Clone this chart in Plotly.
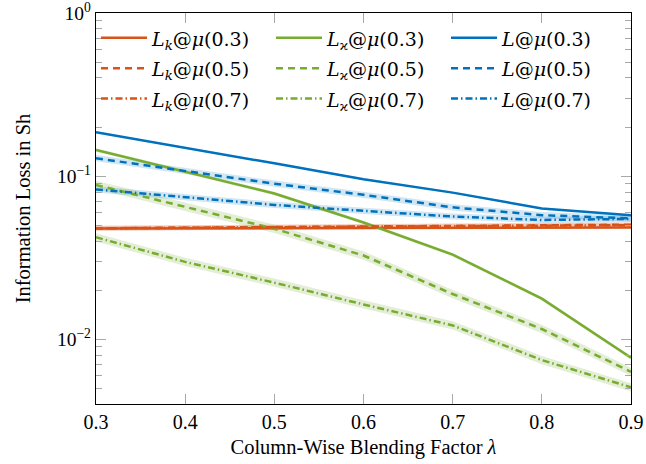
import plotly.graph_objects as go

# Column-wise blending factor
lam = [0.3, 0.4, 0.5, 0.6, 0.7, 0.8, 0.9]

# Information loss (Sh) per loss term and mu setting
Lk_03 = [0.0479, 0.0480, 0.0482, 0.0483, 0.0484, 0.0485, 0.0486]
Lk_05 = [0.0480, 0.0484, 0.0488, 0.0493, 0.0497, 0.0501, 0.0505]
Lk_07 = [0.0480, 0.0483, 0.0487, 0.0491, 0.0495, 0.0499, 0.0502]

Lx_03 = [0.145, 0.107, 0.0785, 0.0521, 0.0331, 0.0178, 0.00774]
Lx_05 = [0.0885, 0.065, 0.0477, 0.0327, 0.0190, 0.0116, 0.00634]
Lx_07 = [0.0423, 0.0299, 0.0223, 0.0164, 0.0122, 0.00748, 0.0051]

L_03 = [0.186, 0.150, 0.120, 0.096, 0.0794, 0.0635, 0.0578]
L_05 = [0.129, 0.108, 0.0900, 0.077, 0.0645, 0.0578, 0.0552]
L_07 = [0.083, 0.0748, 0.0668, 0.0614, 0.0567, 0.0540, 0.0548]

# multiplicative half-width of the shaded spread band around each curve
spread = {
    "Lk_03": 1.012, "Lk_05": 1.035, "Lk_07": 1.035,
    "Lx_03": 1.025, "Lx_05": 1.06, "Lx_07": 1.06,
    "L_03": 1.012, "L_05": 1.045, "L_07": 1.045,
}

x_ticks = [0.3, 0.4, 0.5, 0.6, 0.7, 0.8, 0.9]
x_tick_text = ["0.3", "0.4", "0.5", "0.6", "0.7", "0.8", "0.9"]
y_ticks = [1, 0.1, 0.01]
y_tick_text = ["10<sup>0</sup>", "10<sup>\u22121</sup>", "10<sup>\u22122</sup>"]

RED, GREEN, BLUE = "#D95319", "#77AC30", "#0072BD"
BAND = {RED: "rgba(217,83,25,0.18)", GREEN: "rgba(119,172,48,0.20)",
        BLUE: "rgba(0,114,189,0.18)"}
DASH = {"0.3": "solid", "0.5": "7px,5px", "0.7": "7px,3px,1.5px,3px"}


def label(sym, mu):
    return ('<span style="font-size:19px">' + sym +
            "@<i>\u03bc</i>(" + mu + ")</span>")


LK = "<i>L</i><sub><i>k</i></sub>"
LX = "<i>L</i><sub>\u03f0</sub>"
LL = "<i>L</i>"

series = [
    ("Lk_03", Lk_03, RED, "0.3", label(LK, "0.3")),
    ("Lx_03", Lx_03, GREEN, "0.3", label(LX, "0.3")),
    ("L_03", L_03, BLUE, "0.3", label(LL, "0.3")),
    ("Lk_05", Lk_05, RED, "0.5", label(LK, "0.5")),
    ("Lx_05", Lx_05, GREEN, "0.5", label(LX, "0.5")),
    ("L_05", L_05, BLUE, "0.5", label(LL, "0.5")),
    ("Lk_07", Lk_07, RED, "0.7", label(LK, "0.7")),
    ("Lx_07", Lx_07, GREEN, "0.7", label(LX, "0.7")),
    ("L_07", L_07, BLUE, "0.7", label(LL, "0.7")),
]

fig = go.Figure()

# spread bands underneath all curves
for key, vals, col, mu, name in series:
    f = spread[key]
    upper = [v * f for v in vals]
    lower = [v / f for v in vals]
    fig.add_trace(go.Scatter(x=lam, y=upper, mode="lines", line=dict(width=0),
                             showlegend=False, hoverinfo="skip"))
    fig.add_trace(go.Scatter(x=lam, y=lower, mode="lines", line=dict(width=0),
                             fill="tonexty", fillcolor=BAND[col],
                             showlegend=False, hoverinfo="skip"))

for key, vals, col, mu, name in series:
    fig.add_trace(go.Scatter(x=lam, y=vals, mode="lines", name=name,
                             line=dict(color=col, width=2.5, dash=DASH[mu])))

FONT = "Times New Roman, Liberation Serif, serif"
MATH = "DejaVu Serif, serif"
TICKC = "#a8a8a8"

fig.update_layout(
    width=646, height=464,
    margin=dict(l=96, r=15, t=13, b=60, autoexpand=False),
    paper_bgcolor="white", plot_bgcolor="white",
    font=dict(family=FONT, size=17, color="black"),
    showlegend=True,
    legend=dict(orientation="h", traceorder="normal",
                x=0.0, xanchor="left", y=0.988, yanchor="top",
                entrywidth=114, entrywidthmode="pixels",
                bgcolor="rgba(0,0,0,0)", borderwidth=0,
                font=dict(family=MATH, size=21), itemwidth=46),
)

fig.update_xaxes(
    range=[0.3, 0.9], tickvals=x_ticks, ticktext=x_tick_text,
    automargin=False,
    showgrid=False, zeroline=False,
    showline=True, linecolor="black", linewidth=1.3, mirror="ticks",
    ticks="inside", ticklen=10, tickcolor=TICKC, tickwidth=1,
    tickfont=dict(family=FONT, size=20),
    title=dict(text="Column-Wise Blending Factor <i>\u03bb</i>",
               font=dict(family=FONT, size=20.5), standoff=7),
)

fig.update_yaxes(
    type="log", range=[-2.395, 0.0002], tickvals=y_ticks, ticktext=y_tick_text,
    ticklabeloverflow="allow", automargin=False,
    showgrid=False, zeroline=False,
    showline=True, linecolor="black", linewidth=1.3, mirror="ticks",
    ticks="inside", ticklen=10, tickcolor=TICKC, tickwidth=1,
    minor=dict(ticks="inside", ticklen=6, tickcolor=TICKC, tickwidth=1,
               dtick="D1", showgrid=False),
    tickfont=dict(family=FONT, size=19.5),
    title=dict(text="Information Loss in Sh", font=dict(family=FONT, size=20.5),
               standoff=20),
)

fig.write_html("out.html")
